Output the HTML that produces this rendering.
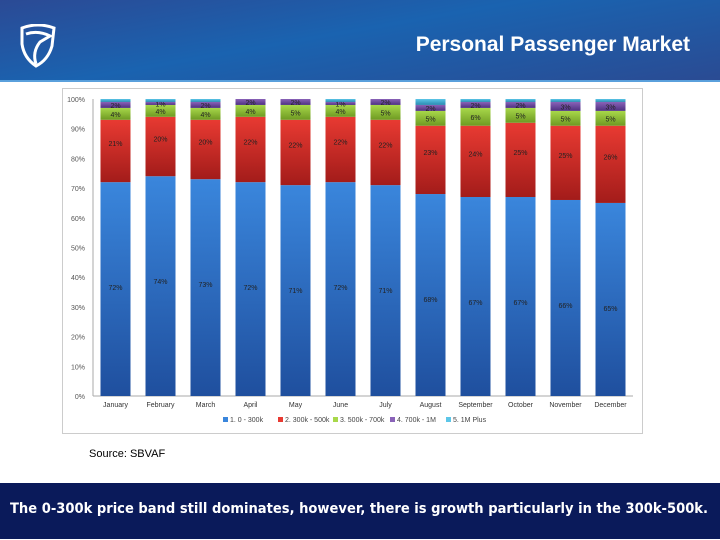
<!DOCTYPE html>
<html><head><meta charset="utf-8"><style>
body{margin:0;width:720px;height:540px;background:#fff;position:relative;overflow:hidden;font-family:"Liberation Sans",sans-serif}
#hdr{position:absolute;left:0;top:0;width:720px;height:80px;background:linear-gradient(170deg,#2b4a95 0%,#1a63b0 45%,#2a4b93 100%);border-bottom:2px solid #5aa0dc}
#title{position:absolute;right:30px;top:33px;color:#fff;font-size:21px;font-weight:bold}
#chartbox{position:absolute;left:62px;top:88px;width:579px;height:344px;border:1px solid #ccc;background:#fff}
#src{position:absolute;left:89px;top:448px;font-size:11px;color:#000}
#foot{position:absolute;left:0;top:483px;width:720px;height:56px;background:#0a1a5a;overflow:hidden}
#foottext{position:absolute;left:10px;top:18px;color:#fff;font-weight:bold;font-size:14.5px;font-family:"DejaVu Sans",sans-serif;white-space:nowrap;transform-origin:0 0}
</style></head><body>
<div id="hdr">
<svg width="40" height="44" style="position:absolute;left:18px;top:24px" viewBox="0 0 40 44"><path d="M4 4 Q20 -2 36 4 L34 22 Q30 36 18 42 Q6 34 4 20 Z" fill="none" stroke="#fff" stroke-width="3"/><path d="M8 10 Q20 6 32 12 L22 18 Q14 28 18 40" fill="none" stroke="#fff" stroke-width="3"/></svg>
<div id="title">Personal Passenger Market</div>
</div>
<div id="chartbox">
<svg id="chart" width="579" height="344"></svg>
</div>
<div id="src">Source: SBVAF</div>
<div id="foot"><span id="foottext">The 0-300k price band still dominates, however, there is growth particularly in the 300k-500k.</span></div>
<script>
const months=["January","February","March","April","May","June","July","August","September","October","November","December"];
const band1=[72,74,73,72,71,72,71,68,67,67,66,65];
const band2=[21,20,20,22,22,22,22,23,24,25,25,26];
const band3=[4,4,4,4,5,4,5,5,6,5,5,5];
const band4=[2,1,2,2,2,1,2,2,2,2,3,3];
const band5=[1,1,1,0,0,1,0,2,1,1,1,1];
const seriesNames=["1. 0 - 300k","2. 300k - 500k","3. 500k - 700k","4. 700k - 1M","5. 1M Plus"];
const yTicks=[0,10,20,30,40,50,60,70,80,90,100];
const NS="http://www.w3.org/2000/svg";
const svg=document.getElementById('chart');
const x0=30,x1=570,yB=307,yT=10;
function Y(v){return yB-(yB-yT)*v/100;}
const step=(x1-x0)/months.length;
function X(i){return x0+step*(i+0.5);}
function el(t,a){const e=document.createElementNS(NS,t);for(const k in a)e.setAttribute(k,a[k]);svg.appendChild(e);return e;}
const defs=el('defs',{});
const colors=[["#3a86dc","#1f4f9e"],["#e83a32","#a31c1a"],["#a8d84a","#6e9a22"],["#8a63b8","#4d3080"],["#5cc6e8","#2a8ab0"]];
colors.forEach((c,i)=>{const g=document.createElementNS(NS,'linearGradient');g.setAttribute('id','g'+i);g.setAttribute('x1','0');g.setAttribute('y1','0');g.setAttribute('x2','0');g.setAttribute('y2','1');
g.innerHTML=`<stop offset="0" stop-color="${c[0]}"/><stop offset="1" stop-color="${c[1]}"/>`;defs.appendChild(g);});
yTicks.forEach(t=>{const tx=el('text',{x:x0-8,y:Y(t)+3,'text-anchor':'end','font-size':'7','fill':'#555'});tx.textContent=t+'%';

});
el('line',{x1:x0,y1:yT,x2:x0,y2:yB,stroke:'#aaa','stroke-width':1});
el('line',{x1:x0,y1:yB,x2:x1,y2:yB,stroke:'#aaa','stroke-width':1});
const all=[band1,band2,band3,band4,band5];
const bw=30;
months.forEach((m,i)=>{let cum=0;
all.forEach((s,k)=>{const v=s[i];if(v<=0)return;
const r=el('rect',{x:X(i)-bw/2,y:Y(cum+v),width:bw,height:Y(cum)-Y(cum+v),fill:'url(#g'+k+')'});


if(k<4){const t=el('text',{x:X(i),y:(k==0?Y(cum+v)+108:Y(cum+v/2)+(k==1?-5:3)),'text-anchor':'middle','font-size':'7','fill':'#222'});t.textContent=v+'%';

}
cum+=v;});
const lt=el('text',{x:X(i),y:yB+11,'text-anchor':'middle','font-size':'7','fill':'#333'});lt.textContent=m;


});
const lx=[160,215,270,327,383];
seriesNames.forEach((n,k)=>{el('rect',{x:lx[k],y:328,width:5,height:5,fill:colors[k][0]});
const t=el('text',{x:lx[k]+7,y:333,'font-size':'7','fill':'#444'});t.textContent=n;

});
const ft=document.getElementById('foottext');
const w=ft.getBoundingClientRect().width;
ft.style.transform='scaleX('+(698/w)+')';
</script>
</body></html>
